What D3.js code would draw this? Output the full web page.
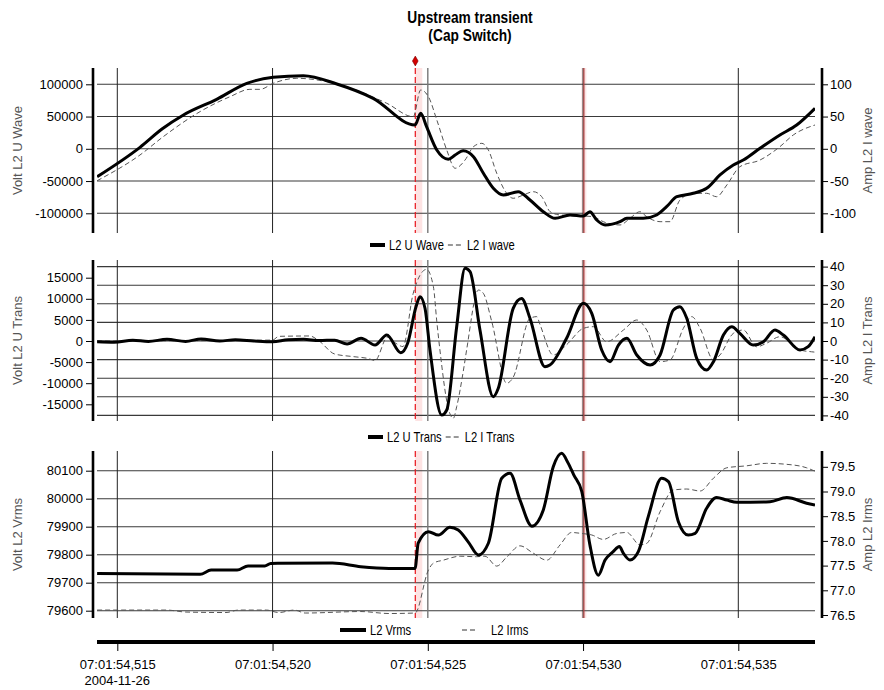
<!DOCTYPE html>
<html>
<head>
<meta charset="utf-8">
<script src="https://cdn.jsdelivr.net/npm/d3@7"></script>
<style>
  body { margin: 0; background: #fff; }
  svg { display: block; }
</style>
</head>
<body>
<svg id="chart" width="884" height="690"></svg>
<script>
// ---- data: time in ms after 07:01:54 (2004-11-26) ----
const uWave = [[514.35,-43300],[515.73,2300],[516.45,31000],[517.13,52400],[518.20,76700],[519.17,101500],[520.02,110800],[520.99,113300],[522.07,100500],[523.24,78300],[524.59,36900],[524.77,55000],[524.96,34300],[525.29,-1900],[525.66,-16300],[525.88,-9600],[526.14,-2900],[526.47,-12200],[526.79,-38000],[527.11,-61200],[527.43,-71600],[527.91,-66500],[528.29,-79400],[528.72,-97500],[529.10,-107800],[529.58,-102600],[530.01,-104200],[530.22,-97500],[530.44,-110400],[530.71,-118100],[531.19,-113000],[531.41,-107800],[531.94,-107800],[532.37,-102600],[532.69,-89800],[533.02,-74300],[533.55,-69000],[533.98,-61200],[534.41,-40600],[534.84,-25100],[535.16,-17400],[535.70,800],[536.34,21400],[536.88,36900],[537.47,62800]];
const iWave = [[514.35,-49.5],[515.73,-9.6],[516.48,18.8],[517.66,57.5],[518.63,80.8],[519.27,92.2],[519.60,92.2],[520.02,101.5],[520.78,109.3],[522.07,100.5],[523.68,70.5],[524.53,49.8],[524.77,91.2],[525.02,80.8],[525.29,44.7],[525.61,-1.9],[525.88,-30.2],[526.20,-17.4],[526.47,3.3],[526.74,8.5],[526.95,-1.9],[527.22,-38],[527.54,-69],[527.75,-76.7],[528.08,-71.6],[528.40,-66.5],[528.67,-74.3],[528.94,-97.5],[529.26,-102.6],[530.01,-104.2],[530.33,-105.3],[530.65,-113],[531.19,-118.1],[531.51,-107.8],[531.83,-97.5],[532.05,-105.3],[532.48,-113],[532.80,-113],[533.12,-79.4],[533.55,-69],[533.98,-69],[534.30,-74.3],[534.63,-56.1],[535.05,-27.8],[535.70,-17.4],[536.34,3.3],[536.77,21.4],[537.47,36.9]];

const uTrans = [[514.35,-200],[514.90,-300],[515.50,200],[516.00,-100],[516.60,400],[517.20,-100],[517.70,500],[518.30,0],[518.80,300],[519.40,0],[520.00,-200],[520.50,300],[521.00,400],[521.50,100],[522.00,200],[522.40,-700],[522.85,640],[523.30,-950],[523.68,1420],[524.13,-2800],[524.35,-550],[524.62,8130],[524.75,10500],[524.91,7750],[525.07,-2130],[525.45,-17540],[525.61,-16350],[525.93,3390],[526.20,17230],[526.36,16420],[526.68,2600],[527.11,-13200],[527.27,-11200],[527.75,7750],[528.02,10100],[528.29,5380],[528.77,-6090],[528.93,-5690],[529.47,640],[530.01,8930],[530.28,6560],[530.60,-2130],[530.87,-4900],[531.14,-950],[531.41,640],[531.73,-3320],[532.16,-5690],[532.48,-3320],[532.91,7350],[533.12,8130],[533.34,5380],[533.66,-4100],[533.98,-6870],[534.20,-4900],[534.52,1420],[534.79,3390],[535.05,1820],[535.48,-950],[535.81,-170],[536.18,2600],[536.45,1420],[536.99,-2130],[537.25,-1350],[537.47,1020]];
const iTrans = [[514.35,0],[520.00,0.5],[520.20,2.5],[521.20,2.7],[521.50,0],[522.00,-7],[522.60,-8.4],[523.10,-9.5],[523.30,-10.5],[523.70,2],[523.95,-1],[524.20,-3],[524.53,25.6],[524.96,38.5],[525.18,29.2],[525.29,10.4],[525.39,-4.8],[525.66,-36.2],[525.82,-41.6],[525.93,-35.3],[526.14,-16.5],[526.25,-4.8],[526.63,27.4],[526.79,25.6],[527.06,10.4],[527.54,-22.7],[527.75,-19.5],[528.29,12.2],[528.51,13.1],[528.61,9],[529.04,-7.5],[529.47,-2],[530.01,6.8],[530.33,7.7],[530.76,-0.4],[531.30,5.9],[531.73,11.3],[532.05,5.9],[532.48,-11.1],[532.80,-10.2],[533.23,6.8],[533.50,13.1],[533.77,6.8],[534.20,-10.2],[534.41,-7.5],[534.84,4.1],[535.16,5.9],[535.59,-3.1],[535.91,-1.2],[536.34,2.3],[536.66,-0.4],[536.99,-4.8],[537.36,-5.8],[537.47,-6]];

const vRms = [[514.35,79733],[517.67,79730],[518.02,79745],[518.86,79745],[519.21,79760],[519.75,79760],[519.94,79769],[521.93,79770],[522.84,79757],[523.75,79751],[524.59,79751],[524.69,79841],[525.02,79882],[525.34,79870],[525.71,79898],[525.98,79888],[526.30,79846],[526.63,79799],[526.95,79841],[527.38,80073],[527.65,80091],[527.97,79995],[528.35,79902],[528.72,79960],[529.04,80114],[529.31,80162],[529.52,80127],[529.70,80085],[529.96,80025],[530.22,79835],[530.49,79727],[530.71,79781],[530.97,79811],[531.17,79829],[531.30,79805],[531.51,79781],[531.78,79811],[532.10,79936],[532.53,80073],[532.75,80061],[533.07,79918],[533.39,79870],[533.61,79876],[533.98,79966],[534.30,80004],[534.63,79995],[534.95,79987],[536.02,79989],[536.56,80004],[537.20,79984],[537.47,79977]];
const iRms = [[514.35,76.60],[516.60,76.60],[517.20,76.56],[518.50,76.55],[518.90,76.60],[519.80,76.60],[520.20,76.55],[520.70,76.60],[521.05,76.54],[522.84,76.57],[523.75,76.53],[524.59,76.54],[525.02,77.41],[525.18,77.55],[525.50,77.61],[526.04,77.69],[526.57,77.68],[526.84,77.69],[527.22,77.49],[527.55,77.68],[527.97,77.90],[528.40,77.75],[528.83,77.61],[529.26,77.92],[529.63,78.17],[529.96,78.15],[530.28,78.12],[530.65,78.03],[531.08,78.15],[531.41,78.17],[531.83,77.92],[532.05,77.95],[532.48,78.59],[532.91,79.03],[533.34,79.05],[533.77,79.01],[534.20,79.27],[534.63,79.48],[535.27,79.52],[535.91,79.57],[536.56,79.55],[537.20,79.48],[537.47,79.41]];

// axis ticks and labels
const timeTicks = [515, 520, 525, 530, 535];
const timeLabels = ["07:01:54,515", "07:01:54,520", "07:01:54,525", "07:01:54,530", "07:01:54,535"];
const dateLabel = "2004-11-26";
const cursorTimes = [524.597, 530.01];

const waveTicksV = [-100000, -50000, 0, 50000, 100000];
const waveTicksA = [-100, -50, 0, 50, 100];
const transTicksV = [-15000, -10000, -5000, 0, 5000, 10000, 15000];
const transTicksA = [-40, -30, -20, -10, 0, 10, 20, 30, 40];
const rmsTicksV = [79600, 79700, 79800, 79900, 80000, 80100];
const rmsTicksA = [76.5, 77.0, 77.5, 78.0, 78.5, 79.0, 79.5];

// ---- drawing ----
const SANS = "'Liberation Sans',Arial,sans-serif";
const svg = d3.select("#chart");
const X0 = 97, X1 = 815, AXL = 93, AXR = 822;
const x = d3.scaleLinear().domain([514.346, 537.47]).range([X0, X1]);

// condensed text: regular glyphs squeezed horizontally
function squeezed(parent, tx, ty, sx, font, anchor, txt) {
  return parent.append("text").attr("transform", `translate(${tx},${ty}) scale(${sx},1)`)
    .attr("text-anchor", anchor || "start").style("font", font).attr("fill", "#000").text(txt);
}

squeezed(svg, 470, 23, 0.86, `bold 16px ${SANS}`, "middle", "Upstream transient");
squeezed(svg, 470, 41, 0.86, `bold 16px ${SANS}`, "middle", "(Cap Switch)");

const panels = [
  { top: 68, bottom: 233,
    yL: d3.scaleLinear().domain([-100000, 100000]).range([213.3, 84.3]),
    yR: d3.scaleLinear().domain([-100, 100]).range([213.3, 84.3]),
    ticksL: waveTicksV, minorL: 10000, ticksR: waveTicksA, minorR: 10, fmtR: d => String(d),
    grid: "L", titleL: "Volt L2 U Wave", titleR: "Amp L2 I wave",
    solid: uWave, dashed: iWave, legendY: 245,
    legend: [{ x: 370, label: "L2 U Wave", kind: "solid" }, { x: null, label: "L2 I wave", kind: "dashed" }] },
  { top: 260, bottom: 421,
    yL: d3.scaleLinear().domain([-15000, 15000]).range([404.3, 277.7]),
    yR: d3.scaleLinear().domain([-40, 40]).range([415.4, 266.6]),
    ticksL: transTicksV, minorL: 1000, ticksR: transTicksA, minorR: 5, fmtR: d => String(d),
    grid: "R", titleL: "Volt L2 U Trans", titleR: "Amp L2 I Trans",
    solid: uTrans, dashed: iTrans, legendY: 437,
    legend: [{ x: 368, label: "L2 U Trans", kind: "solid" }, { x: null, label: "L2 I Trans", kind: "dashed" }] },
  { top: 451, bottom: 618,
    yL: d3.scaleLinear().domain([79600, 80100]).range([610.7, 470.7]),
    yR: d3.scaleLinear().domain([76.5, 79.5]).range([615, 466.8]),
    ticksL: rmsTicksV, minorL: 20, ticksR: rmsTicksA, minorR: 0.1, fmtR: d => d.toFixed(1),
    grid: "L", titleL: "Volt L2 Vrms", titleR: "Amp L2 Irms",
    solid: vRms, dashed: iRms, legendY: 630,
    legend: [{ x: 340, label: "L2 Vrms", kind: "solid", sample: 26 }, { x: 462, label: "L2 Irms", kind: "dashed", gap: 14 }] }
];

function minorValues(scale, step, top, bottom) {
  const a = scale.invert(bottom), b = scale.invert(top);
  const vals = [];
  const n0 = Math.ceil(a / step - 1e-9), n1 = Math.floor(b / step + 1e-9);
  for (let n = n0; n <= n1; n++) vals.push(+(n * step).toFixed(6));
  return vals;
}

panels.forEach((p, idx) => {
  const g = svg.append("g");
  const clipId = "clip" + idx;
  svg.append("clipPath").attr("id", clipId).append("rect")
    .attr("x", X0).attr("y", p.top).attr("width", X1 - X0).attr("height", p.bottom - p.top);

  // cursor bands
  g.append("rect").attr("x", x(cursorTimes[0])).attr("y", p.top)
    .attr("width", 7).attr("height", p.bottom - p.top).attr("fill", "#fde3e3");
  g.append("rect").attr("x", x(cursorTimes[1]) - 2).attr("y", p.top)
    .attr("width", 5).attr("height", p.bottom - p.top).attr("fill", "#fde3e3");

  // horizontal grid
  const gy = p.grid === "L" ? p.yL : p.yR;
  const gt = p.grid === "L" ? p.ticksL : p.ticksR;
  g.selectAll(".hg").data(gt).join("line")
    .attr("x1", X0).attr("x2", X1).attr("y1", d => gy(d)).attr("y2", d => gy(d))
    .attr("stroke", "#3a3a3a").attr("stroke-width", 1.1);

  // vertical grid
  g.selectAll(".vg").data(timeTicks).join("line")
    .attr("x1", d => x(d)).attr("x2", d => x(d)).attr("y1", p.top).attr("y2", p.bottom)
    .attr("stroke", d => d === 525 ? "#777" : "#222").attr("stroke-width", d => d === 525 ? 1.4 : 1);

  // cursors
  g.append("line").attr("x1", x(cursorTimes[0])).attr("x2", x(cursorTimes[0]))
    .attr("y1", p.top).attr("y2", p.bottom)
    .attr("stroke", "#e8141a").attr("stroke-width", 1.2).attr("stroke-dasharray", "6,3");
  g.append("line").attr("x1", x(cursorTimes[1]) + 0.5).attr("x2", x(cursorTimes[1]) + 0.5)
    .attr("y1", p.top).attr("y2", p.bottom)
    .attr("stroke", "#b04848").attr("stroke-width", 1.3);

  // series
  const lineR = d3.line().x(d => x(d[0])).y(d => p.yR(d[1])).curve(d3.curveMonotoneX);
  const lineL = d3.line().x(d => x(d[0])).y(d => p.yL(d[1])).curve(d3.curveMonotoneX);
  g.append("path").datum(p.dashed).attr("clip-path", `url(#${clipId})`)
    .attr("d", lineR).attr("fill", "none").attr("stroke", "#555")
    .attr("stroke-width", 1).attr("stroke-dasharray", "5,3");
  g.append("path").datum(p.solid).attr("clip-path", `url(#${clipId})`)
    .attr("d", lineL).attr("fill", "none").attr("stroke", "#000")
    .attr("stroke-width", 3).attr("stroke-linejoin", "round");

  // left axis
  const al = g.append("g").attr("transform", `translate(${AXL - 1},0)`);
  al.call(d3.axisLeft(p.yL).tickValues(minorValues(p.yL, p.minorL, p.top + 2, p.bottom - 2)).tickSize(3).tickFormat(""));
  al.call(d3.axisLeft(p.yL).tickValues(p.ticksL).tickSize(6).tickPadding(3).tickFormat(d => String(d)));
  al.selectAll(".domain").remove();
  al.selectAll("text").style("font", `13px ${SANS}`).attr("fill", "#000");
  al.selectAll("line").attr("stroke", "#000");
  g.append("line").attr("x1", AXL).attr("x2", AXL).attr("y1", p.top).attr("y2", p.bottom)
    .attr("stroke", "#000").attr("stroke-width", 2.6);

  // right axis
  const ar = g.append("g").attr("transform", `translate(${AXR + 1},0)`);
  ar.call(d3.axisRight(p.yR).tickValues(minorValues(p.yR, p.minorR, p.top + 2, p.bottom - 2)).tickSize(3).tickFormat(""));
  ar.call(d3.axisRight(p.yR).tickValues(p.ticksR).tickSize(5).tickPadding(2).tickFormat(p.fmtR));
  ar.selectAll(".domain").remove();
  ar.selectAll("text").style("font", `13px ${SANS}`).attr("fill", "#000");
  ar.selectAll("line").attr("stroke", "#000");
  g.append("line").attr("x1", AXR).attr("x2", AXR).attr("y1", p.top).attr("y2", p.bottom)
    .attr("stroke", "#000").attr("stroke-width", 2.6);

  // axis titles
  const cy = (p.top + p.bottom) / 2;
  g.append("text").attr("transform", `translate(22,${cy}) rotate(-90)`).attr("text-anchor", "middle")
    .style("font", `13px ${SANS}`).attr("fill", "#555").text(p.titleL);
  g.append("text").attr("transform", `translate(872,${cy}) rotate(-90)`).attr("text-anchor", "middle")
    .style("font", `13px ${SANS}`).attr("fill", "#555").text(p.titleR);

  // legend
  let cx = 0;
  p.legend.forEach(item => {
    const sx = item.x != null ? item.x : cx + 4;
    const sw = item.sample || 15;
    if (item.kind === "solid") {
      g.append("line").attr("x1", sx).attr("x2", sx + sw).attr("y1", p.legendY).attr("y2", p.legendY)
        .attr("stroke", "#000").attr("stroke-width", 4);
    } else {
      g.append("line").attr("x1", sx).attr("x2", sx + sw).attr("y1", p.legendY).attr("y2", p.legendY)
        .attr("stroke", "#333").attr("stroke-width", 1).attr("stroke-dasharray", "5,3");
    }
    const tx = sx + sw + (item.gap || 4);
    const t = squeezed(g, tx, p.legendY + 5, 0.8, `14px ${SANS}`, "start", item.label);
    cx = tx + t.node().getComputedTextLength() * 0.8;
  });
});

// cursor marker
svg.append("path").attr("transform", `translate(${x(cursorTimes[0])},61)`)
  .attr("d", d3.symbol(d3.symbolDiamond).size(28)).attr("fill", "#d40000").attr("stroke", "#7a0000").attr("stroke-width", 0.6);

// time axis
const tg = svg.append("g").attr("transform", "translate(0,644)");
tg.call(d3.axisBottom(x).tickValues(d3.range(515, 538, 1)).tickSize(4).tickFormat(""));
tg.call(d3.axisBottom(x).tickValues(timeTicks).tickSize(7).tickPadding(9).tickFormat((d, i) => timeLabels[i]));
tg.selectAll(".domain").remove();
tg.selectAll("line").attr("stroke", "#000");
tg.selectAll("text").style("font", `13px ${SANS}`).attr("fill", "#000");
svg.append("line").attr("x1", X0).attr("x2", X1).attr("y1", 642).attr("y2", 642)
  .attr("stroke", "#000").attr("stroke-width", 4);
svg.append("text").attr("x", x(timeTicks[0])).attr("y", 685).attr("text-anchor", "middle")
  .style("font", `13px ${SANS}`).attr("fill", "#000").text(dateLabel);
</script>
</body>
</html>
